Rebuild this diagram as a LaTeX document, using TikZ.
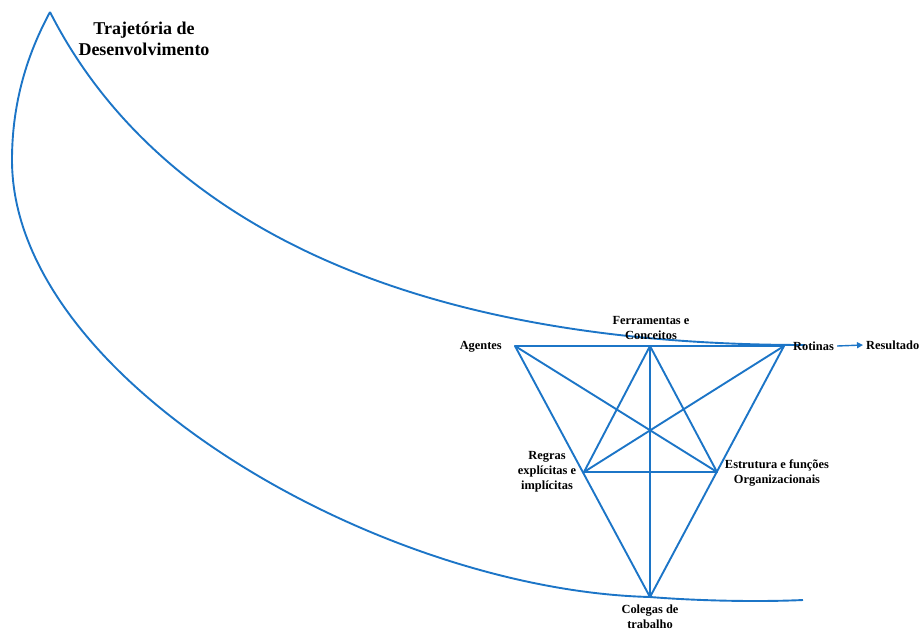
\documentclass[tikz,border=0pt]{standalone}
\usepackage{fontspec}
\setmainfont{Liberation Serif}
\usetikzlibrary{arrows.meta}
\definecolor{linkblue}{RGB}{28,117,199}
\tikzset{
  link/.style={draw=linkblue, line width=1.9pt, line join=round},
  swoosh/.style={draw=linkblue, line width=1.9pt, line join=round},
  lbl/.style={font=\fontsize{12.4}{15}\selectfont\bfseries, align=center, inner sep=0pt, text=black},
  vtx/.style={inner sep=0pt, minimum size=0pt},
}
\begin{document}
\begin{tikzpicture}[x=1pt,y=-1pt]
\useasboundingbox (0,0) rectangle (922,630);

% vertices of the activity system
\node[vtx] (ag) at (515,346) {};
\node[vtx] (fe) at (650,346) {};
\node[vtx] (ro) at (784,346) {};
\node[vtx] (re) at (584,472) {};
\node[vtx] (es) at (717,472) {};
\node[vtx] (co) at (650,597) {};

% ends of the development trajectory
\coordinate (tip) at (50,12);
\coordinate (lft) at (12,160);
\coordinate (oend) at (803,600);
\coordinate (iend) at (805,345);

% outer edge of the swoosh, passing through the colleagues vertex
\draw[swoosh] (tip) .. controls (35,40) and (12,90) .. (lft)
  .. controls (12,380) and (380,590) .. (co.center)
  .. controls (700,601) and (760,602) .. (oend);
% inner edge of the swoosh, running into the routines vertex
\draw[swoosh] (tip) .. controls (130,170) and (330,345) .. (iend);

% outer triangle
\draw[link] (ag.center) -- (ro.center) -- (co.center) -- cycle;
% inner triangle
\draw[link] (fe.center) -- (re.center) -- (es.center) -- cycle;
% vertical and crossing lines
\draw[link] (fe.center) -- (co.center);
\draw[link] (ag.center) -- (es.center);
\draw[link] (ro.center) -- (re.center);

% labels
\node[lbl, font=\fontsize{18}{21}\selectfont\bfseries] (title) at (144,39) {Trajetória de\\Desenvolvimento};
\node[lbl, anchor=east] (tag) at (502,347) {Agentes};
\node[lbl] (tfe) at (651,328) {Ferramentas e\\Conceitos};
\node[lbl, anchor=west] (tro) at (793,346) {Rotinas};
\node[lbl, anchor=west] (tres) at (866,345) {Resultado};
\node[lbl] (tre) at (547,472) {Regras\\explícitas e\\implícitas};
\node[lbl] (tes) at (777,473) {Estrutura e funções\\Organizacionais};
\node[lbl] (tco) at (650,617) {Colegas de\\trabalho};

% output arrow
\draw[link, line width=1.4pt, -{Triangle[length=6pt,width=6pt]}] ([xshift=3pt]tro.east) -- ([xshift=-3pt]tres.west);
\end{tikzpicture}
\end{document}
